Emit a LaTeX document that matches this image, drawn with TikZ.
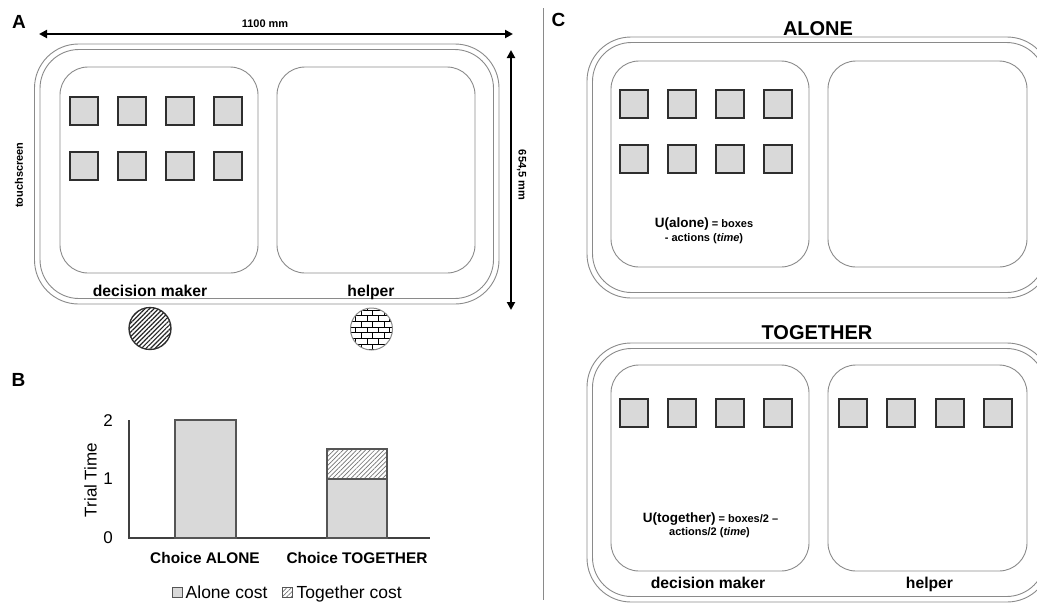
\documentclass[tikz,border=0pt]{standalone}
\usepackage{fontspec}
\setmainfont{Liberation Sans}
\usetikzlibrary{arrows.meta,patterns,patterns.meta}
\definecolor{boxfill}{HTML}{D9D9D9}
\definecolor{frame}{HTML}{8A8A8A}
\definecolor{sqline}{HTML}{2E2E2E}
\definecolor{barline}{HTML}{555555}
\newcommand{\fsz}[1]{\fontsize{#1}{#1}\selectfont}
\begin{document}
\begin{tikzpicture}[x=1pt,y=-1pt,
  frameline/.style={draw=frame,line width=0.9pt},
  outerbox/.style={frameline,rounded corners=44pt},
  innerbox/.style={frameline,rounded corners=39pt},
  screen/.style={frameline,rounded corners=28pt},
  sq/.style={draw=sqline,fill=boxfill,line width=2pt,minimum size=28pt,inner sep=0pt},
  dimline/.style={line width=2.6pt,{Triangle[length=8pt,width=8pt]}-{Triangle[length=8pt,width=8pt]}},
  panellbl/.style={inner sep=0pt,font=\fsz{19}\bfseries},
  dimlbl/.style={inner sep=0pt,font=\fsz{11}\bfseries},
  rolelbl/.style={inner sep=0pt,anchor=base,font=\fsz{15.7}\bfseries},
  condlbl/.style={inner sep=0pt,anchor=base,font=\fsz{20}\bfseries},
  formula/.style={inner sep=0pt,anchor=base,font=\fsz{11}\bfseries},
  chartlbl/.style={inner sep=0pt,font=\fsz{17}},
  catlbl/.style={inner sep=0pt,anchor=base,font=\fsz{15.4}\bfseries},
  leglbl/.style={inner sep=0pt,anchor=base west,font=\fsz{17.5}},
  bar/.style={draw=barline,line width=1.1pt},
  legsq/.style={draw=barline,line width=0.8pt,minimum size=9.5pt,inner sep=0pt},
  axisline/.style={draw=black!75,line width=1.1pt},
  hatchlight/.style={pattern={Lines[angle=45,distance=3.2pt,line width=0.7pt]},pattern color=black!55},
  hatchdark/.style={pattern={Lines[angle=45,distance=3.2pt,line width=1.2pt]},pattern color=black!85}
]
\useasboundingbox (0,0) rectangle (1037,603);

% ---------------- Panel A ----------------
\node[panellbl] (labA) at (19,21.5) {A};
\coordinate (hL) at (39,34);
\coordinate (hR) at (513,34);
\draw[dimline] (hL) -- (hR);
\node[dimlbl] (w) at (265,24) {1100 mm};
\coordinate (vT) at (511,50);
\coordinate (vB) at (511,310);
\draw[dimline] (vT) -- (vB);
\node[dimlbl,rotate=-90] (h) at (521.5,175) {654,5 mm};
\node[dimlbl,rotate=90] (ts) at (19,175) {touchscreen};

\draw[outerbox] (34.5,44) rectangle (499,304);
\draw[innerbox] (40,49.5) rectangle (493.5,298.5);
\draw[screen] (60,67) rectangle (258,273);
\draw[screen] (277,67) rectangle (475,273);
\foreach \i/\x in {1/83.5,2/131.7,3/179.9,4/228.1}{
  \node[sq] (aT\i) at (\x,111) {};
  \node[sq] (aB\i) at (\x,165.5) {};
}
\node[rolelbl] (aDM) at (150,296) {decision maker};
\node[rolelbl] (aH) at (371,296) {helper};

\node[circle,draw=sqline,line width=1.3pt,minimum size=42pt,inner sep=0pt,hatchdark] (dmtok) at (150,328.5) {};
\node[circle,draw=frame,line width=1pt,minimum size=42pt,inner sep=0pt,pattern=bricks] (htok) at (371.5,329) {};

% ---------------- Panel B ----------------
\node[panellbl] (labB) at (18.5,380) {B};
\draw[axisline] (129,420) -- (129,538) -- (430,538);
\node[chartlbl] (t2) at (108,421) {2};
\node[chartlbl] (t1) at (108,479) {1};
\node[chartlbl] (t0) at (108,538) {0};
\node[chartlbl,rotate=90] (yl) at (90.5,480) {Trial Time};
\draw[bar,fill=boxfill] (175,420) rectangle (236,538);
\draw[bar,fill=boxfill] (327,479) rectangle (387,538);
\fill[hatchlight] (327,449) rectangle (387,479);
\draw[bar] (327,449) rectangle (387,479);
\node[catlbl] (c1) at (205,563) {Choice ALONE};
\node[catlbl] (c2) at (357,563) {Choice TOGETHER};
\node[legsq,fill=boxfill] (lg1) at (177.5,592.5) {};
\node[leglbl] (lt1) at (185.5,598) {Alone cost};
\node[legsq,hatchlight] (lg2) at (287.5,592.5) {};
\node[leglbl] (lt2) at (296.5,598) {Together cost};

% ---------------- Panel C ----------------
\draw[frame,line width=0.8pt] (543,8) -- (543,600);
\node[panellbl] (labC) at (558.5,20) {C};

\begin{scope}
\clip (0,0) rectangle (1037,603);
% ALONE
\node[condlbl] (alone) at (818,35) {ALONE};
\draw[outerbox] (587,37) rectangle (1051,298);
\draw[innerbox] (592.5,42.5) rectangle (1045.5,292.5);
\draw[screen] (611,61) rectangle (809,267);
\draw[screen] (828,61) rectangle (1027,267);
\foreach \i/\x in {1/634,2/682,3/730,4/778}{
  \node[sq] (cT\i) at (\x,104) {};
  \node[sq] (cB\i) at (\x,158.5) {};
}
\node[formula] (fa1) at (704,227) {{\fsz{13.5}U(alone)} = boxes};
\node[formula] (fa2) at (704,241) {- actions (\textit{time})};

% TOGETHER
\node[condlbl] (together) at (817,339) {TOGETHER};
\draw[outerbox] (587,343) rectangle (1051,602);
\draw[innerbox] (592.5,348.5) rectangle (1045.5,596.5);
\draw[screen] (611,365) rectangle (809,571);
\draw[screen] (828,365) rectangle (1027,571);
\foreach \i/\x in {1/634,2/682,3/730,4/778}{
  \node[sq] (gL\i) at (\x,413) {};
}
\foreach \i/\x in {1/853,2/901,3/950,4/998}{
  \node[sq] (gR\i) at (\x,413) {};
}
\node[formula] (ft1) at (710.5,522) {{\fsz{13.5}U(together)} = boxes/2 --};
\node[formula] (ft2) at (709.5,535) {actions/2 (\textit{time})};
\node[rolelbl] (cDM) at (708,588) {decision maker};
\node[rolelbl] (cH) at (929.5,588) {helper};
\end{scope}
\end{tikzpicture}
\end{document}
